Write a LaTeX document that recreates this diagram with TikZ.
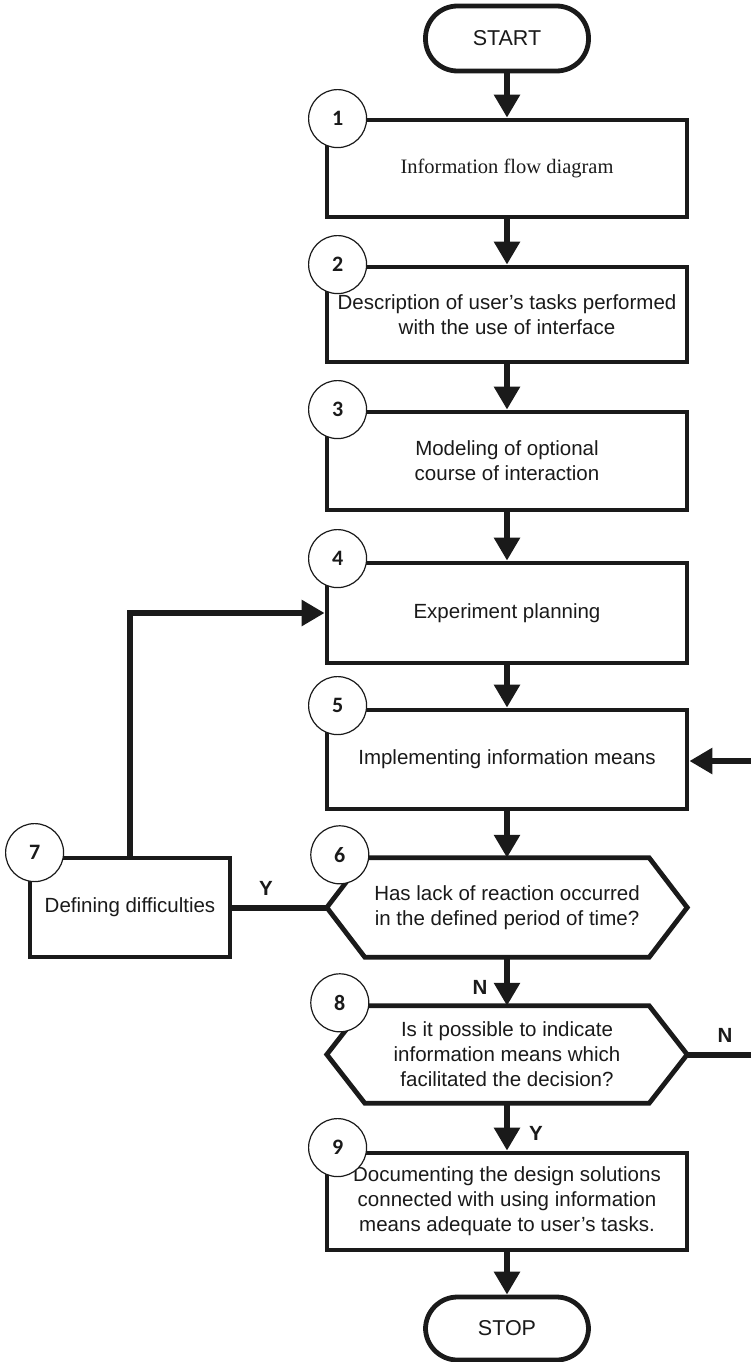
\documentclass[tikz,border=0pt]{standalone}
\usepackage{fontspec}
\setmainfont{Liberation Sans}
\newfontfamily\seriffam{Liberation Serif}
\newfontfamily\numfont{Carlito}
\usetikzlibrary{arrows.meta,calc}
\definecolor{ink}{HTML}{1A1A1A}
\tikzset{
  txt/.style={font=\fontsize{20.5}{25}\selectfont, align=center, text=ink},
  stepbox/.style={txt, draw=ink, line width=4.8pt, minimum width=360pt, inner sep=0pt},
  term/.style={txt, draw=ink, line width=4.8pt, minimum width=163pt, minimum height=65pt, rounded corners=32pt, inner sep=0pt, font=\fontsize{21.5}{25}\selectfont},
  hexnode/.style={txt, minimum width=360pt, inner sep=0pt},
  hexline/.style={draw=ink, line width=4.8pt, line join=miter},
  numc/.style={circle, draw=ink, line width=1.2pt, fill=white, minimum size=58pt, inner sep=0pt, font=\numfont\bfseries\fontsize{22}{26}\selectfont, text=ink},
  arr/.style={draw=ink, line width=6.5pt, -{Triangle[length=23pt,width=25pt]}},
  conn/.style={draw=ink, line width=6pt},
  yn/.style={font=\bfseries\fontsize{20.5}{24}\selectfont, text=ink}
}
\begin{document}
\begin{tikzpicture}[x=1pt,y=-1pt]
\useasboundingbox (0,0) rectangle (750,1362);
\fill[white] (0,0) rectangle (750,1362);

\node[term] (start) at (507,38.5) {START};
\node[stepbox, minimum height=97pt, font=\seriffam\fontsize{20.5}{25}\selectfont] (b1) at (507,168.5) {Information flow diagram};
\node[stepbox, minimum height=95pt] (b2) at (507,314.5) {Description of user’s tasks performed\\with the use of interface};
\node[stepbox, minimum height=98pt] (b3) at (507,461) {Modeling of optional\\course of interaction};
\node[stepbox, minimum height=100pt] (b4) at (507,613) {Experiment planning};
\node[stepbox, minimum height=99pt] (b5) at (507,759.5) {Implementing information means};
\node[hexnode, minimum height=99pt] (h6) at (507,907.5) {Has lack of reaction occurred\\in the defined period of time?};
\node[hexnode, minimum height=97pt] (h8) at (507,1054.5) {Is it possible to indicate\\information means which\\facilitated the decision?};
\node[stepbox, minimum height=97pt] (b9) at (507,1201.5) {Documenting the design solutions\\connected with using information\\means adequate to user’s tasks.};
\node[term, minimum height=63pt] (stop) at (507,1328.5) {STOP};
\node[stepbox, minimum width=200pt, minimum height=99pt] (b7) at (130,907.5) {Defining difficulties};

\foreach \h in {h6,h8}{
  \draw[hexline] (\h.west) -- ($(\h.north west)+(38,0)$) -- ($(\h.north east)+(-38,0)$) -- (\h.east) -- ($(\h.south east)+(-38,0)$) -- ($(\h.south west)+(38,0)$) -- cycle;
}

% connectors
\draw[arr] (start.south) -- (b1.north);
\draw[arr] (b1.south) -- (b2.north);
\draw[arr] (b2.south) -- (b3.north);
\draw[arr] (b3.south) -- (b4.north);
\draw[arr] (b4.south) -- (b5.north);
\draw[arr] (b5.south) -- (h6.north);
\draw[arr] (h6.south) -- (h8.north);
\draw[arr] (h8.south) -- (b9.north);
\draw[arr] (b9.south) -- (stop.north);
\draw[arr] (b7.north) -- (b7.north |- b4.west) -- (b4.west);
\draw[conn] (b7.east) -- (h6.west);
\coordinate (rN) at (752,1054.5);
\coordinate (rIn) at (752,761);
\draw[conn] (h8.east) -- (rN);
\draw[arr] (rIn) -- (b5.east |- rIn);

% labels
\node[yn] (ly) at (266,888) {Y};
\node[yn] (ln6) at (480,987) {N};
\node[yn] (ly8) at (536,1133) {Y};
\node[yn] (ln8) at (725,1035) {N};

% number circles
\node[numc] (c1) at ($(b1.north west)+(13,1)$) {1};
\node[numc] (c2) at ($(b2.north west)+(13,0)$) {2};
\node[numc] (c3) at ($(b3.north west)+(13,0)$) {3};
\node[numc] (c4) at ($(b4.north west)+(13,-2)$) {4};
\node[numc] (c5) at ($(b5.north west)+(13,-2)$) {5};
\node[numc] (c6) at ($(h6.north west)+(13,-3)$) {6};
\node[numc] (c8) at ($(h8.north west)+(13,-3)$) {8};
\node[numc] (c9) at ($(b9.north west)+(13,-3)$) {9};
\node[numc] (c7) at ($(b7.north west)+(7,-3)$) {7};
\end{tikzpicture}
\end{document}
